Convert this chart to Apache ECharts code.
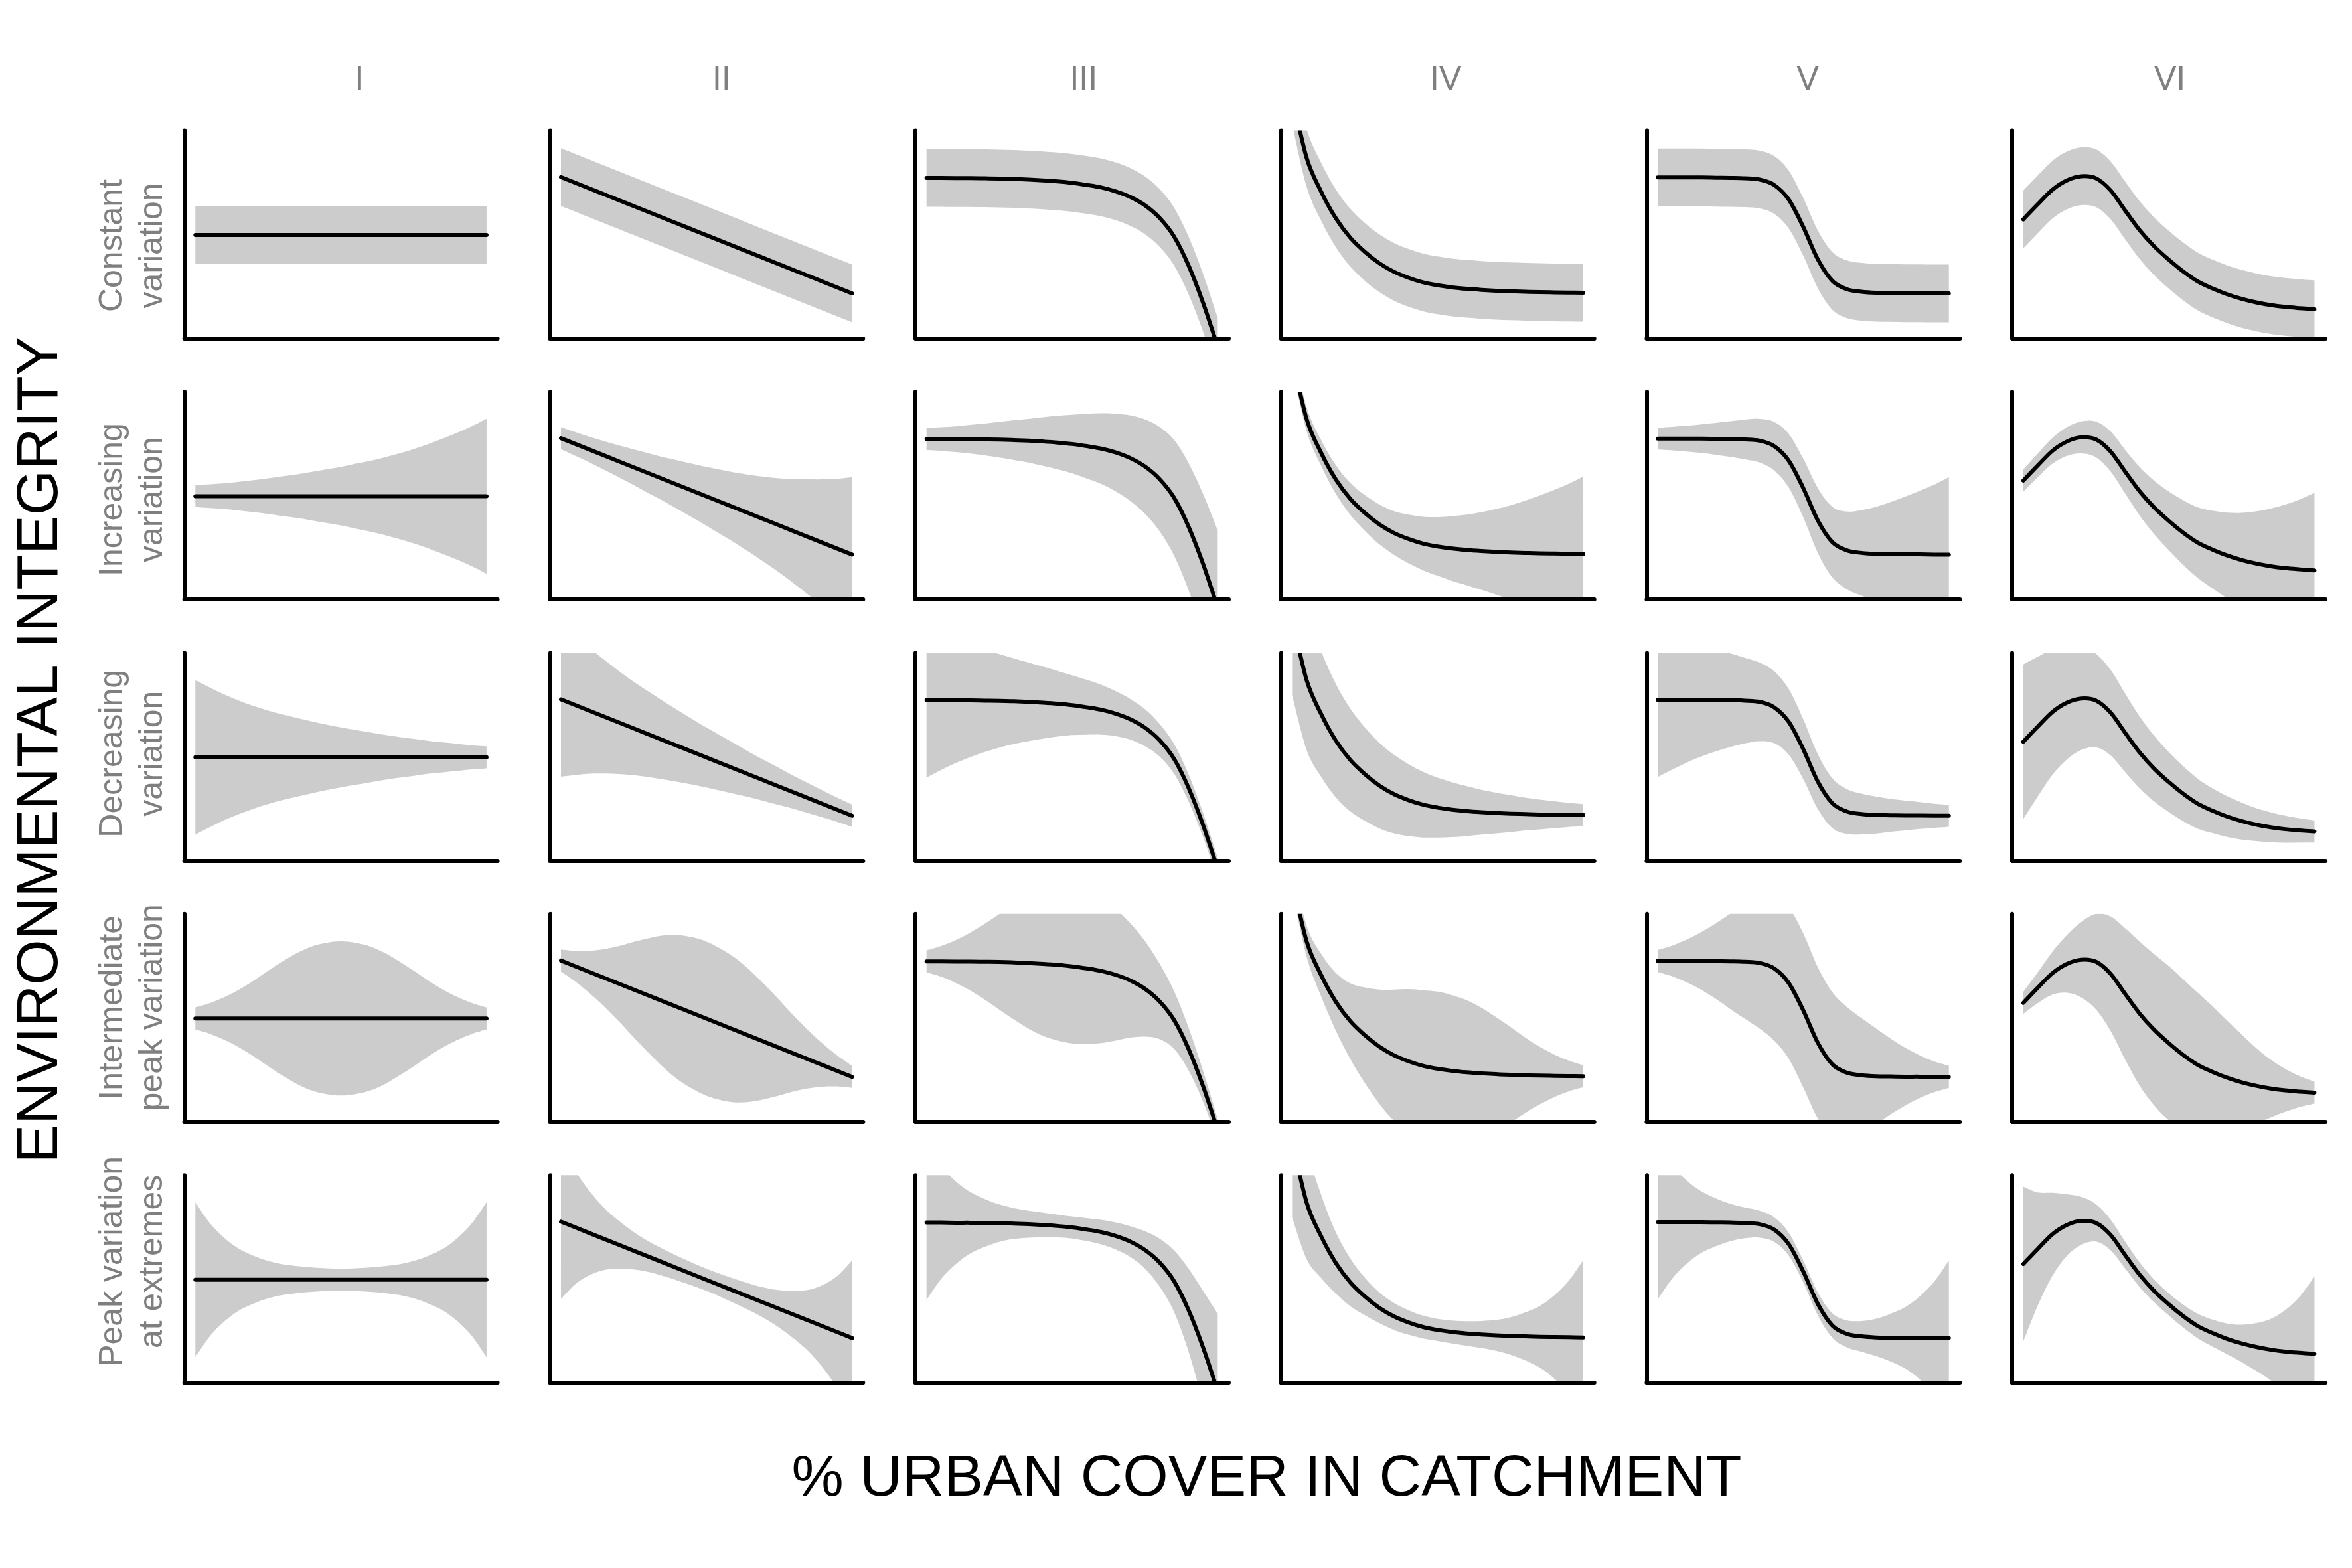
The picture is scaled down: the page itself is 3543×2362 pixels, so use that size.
<!DOCTYPE html>
<html>
<head>
<meta charset="utf-8">
<script src="https://cdn.jsdelivr.net/npm/echarts@6/dist/echarts.min.js"></script>
<style>
html, body { margin: 0; padding: 0; background: #ffffff; }
#chart { width: 3543px; height: 2362px; }
</style>
</head>
<body>
<div id="chart"></div>
<script>
// ---------------- DATA ----------------
// x positions along "% urban cover" (fraction of the data range)
const xs = [0, 0.05, 0.1, 0.15, 0.2, 0.25, 0.3, 0.35, 0.4, 0.45, 0.5, 0.55, 0.6, 0.65, 0.7, 0.75, 0.8, 0.85, 0.9, 0.95, 1];

// column (response shape) labels and row (variation pattern) labels
const columnLabels = ['I', 'II', 'III', 'IV', 'V', 'VI'];
const rowLabels = ['Constant\nvariation', 'Increasing\nvariation', 'Decreasing\nvariation', 'Intermediate\npeak variation', 'Peak variation\nat extremes'];

// mean environmental integrity per column (fraction of panel height)
const meanI   = [0.497, 0.497, 0.497, 0.497, 0.497, 0.497, 0.497, 0.497, 0.497, 0.497, 0.497, 0.497, 0.497, 0.497, 0.497, 0.497, 0.497, 0.497, 0.497, 0.497, 0.497];
const meanII  = [0.776, 0.748, 0.720, 0.692, 0.664, 0.636, 0.608, 0.580, 0.552, 0.524, 0.496, 0.468, 0.440, 0.412, 0.384, 0.356, 0.328, 0.300, 0.272, 0.244, 0.216];
const meanIII = [0.772, 0.772, 0.771, 0.771, 0.770, 0.769, 0.767, 0.764, 0.760, 0.755, 0.748, 0.738, 0.726, 0.707, 0.680, 0.640, 0.580, 0.490, 0.350, 0.170, -0.040];
const meanIV  = [1.170, 0.868, 0.705, 0.578, 0.484, 0.416, 0.361, 0.320, 0.291, 0.269, 0.255, 0.245, 0.238, 0.233, 0.229, 0.226, 0.224, 0.222, 0.221, 0.220, 0.219];
const meanV   = [0.774, 0.774, 0.774, 0.774, 0.773, 0.772, 0.770, 0.764, 0.738, 0.668, 0.536, 0.380, 0.276, 0.236, 0.224, 0.219, 0.218, 0.217, 0.217, 0.216, 0.216];
const meanVI  = [0.572, 0.645, 0.715, 0.760, 0.780, 0.770, 0.712, 0.615, 0.520, 0.442, 0.378, 0.321, 0.273, 0.240, 0.212, 0.190, 0.173, 0.160, 0.151, 0.145, 0.140];

// half-width of the grey ribbon per row (fraction of panel height)
const spreadConstant     = [0.139, 0.139, 0.139, 0.139, 0.139, 0.139, 0.139, 0.139, 0.139, 0.139, 0.139, 0.139, 0.139, 0.139, 0.139, 0.139, 0.139, 0.139, 0.139, 0.139, 0.139];
const spreadIncreasing   = [0.053, 0.057, 0.062, 0.069, 0.077, 0.086, 0.096, 0.105, 0.117, 0.129, 0.141, 0.156, 0.170, 0.187, 0.206, 0.227, 0.251, 0.278, 0.306, 0.337, 0.373];
const spreadDecreasing   = [0.372, 0.336, 0.302, 0.273, 0.247, 0.225, 0.206, 0.189, 0.173, 0.158, 0.144, 0.132, 0.120, 0.108, 0.098, 0.089, 0.079, 0.072, 0.065, 0.058, 0.053];
const spreadIntermediate = [0.053, 0.074, 0.103, 0.139, 0.182, 0.230, 0.275, 0.316, 0.347, 0.364, 0.371, 0.364, 0.347, 0.316, 0.275, 0.230, 0.182, 0.139, 0.103, 0.074, 0.053];
const spreadExtremes     = [0.373, 0.272, 0.200, 0.148, 0.115, 0.090, 0.074, 0.065, 0.059, 0.055, 0.053, 0.055, 0.059, 0.065, 0.074, 0.090, 0.115, 0.148, 0.200, 0.272, 0.373];

const xTitle = '% URBAN COVER IN CATCHMENT';
const yTitle = 'ENVIRONMENTAL INTEGRITY';

// ---------------- LAYOUT ----------------
const means = [meanI, meanII, meanIII, meanIV, meanV, meanVI];
const spreads = [spreadConstant, spreadIncreasing, spreadDecreasing, spreadIntermediate, spreadExtremes];

const FONT = '"Liberation Sans", Arial, sans-serif';
const GREY_TEXT = '#7f7f7f';
const LEFT0 = 277.6, DX = 550.7, TOP0 = 196.6, DY = 393.4, PW = 472, PH = 313;
const LINE_W = 6;

function smoothPath(pts, move) {
  let d = (move ? 'M' : 'L') + pts[0][0].toFixed(2) + ' ' + pts[0][1].toFixed(2);
  for (let k = 0; k < pts.length - 1; k++) {
    const p0 = pts[k - 1] || pts[k], p1 = pts[k], p2 = pts[k + 1], p3 = pts[k + 2] || pts[k + 1];
    const c1x = p1[0] + (p2[0] - p0[0]) / 6, c1y = p1[1] + (p2[1] - p0[1]) / 6;
    const c2x = p2[0] - (p3[0] - p1[0]) / 6, c2y = p2[1] - (p3[1] - p1[1]) / 6;
    d += ' C' + c1x.toFixed(2) + ' ' + c1y.toFixed(2) + ' ' + c2x.toFixed(2) + ' ' + c2y.toFixed(2) + ' ' + p2[0].toFixed(2) + ' ' + p2[1].toFixed(2);
  }
  return d;
}

const grids = [], xAxes = [], yAxes = [], series = [];
const axisStyle = { show: true, onZero: false, lineStyle: { color: '#000000', width: LINE_W, cap: 'round' } };

for (let i = 0; i < rowLabels.length; i++) {
  for (let j = 0; j < columnLabels.length; j++) {
    const g = grids.length;
    grids.push({ left: LEFT0 + DX * j, top: TOP0 + DY * i, width: PW, height: PH, containLabel: false });
    xAxes.push({ type: 'value', gridIndex: g, min: -0.038, max: 1.038, z: 10,
      axisLine: axisStyle, axisTick: { show: false }, axisLabel: { show: false }, splitLine: { show: false } });
    yAxes.push({ type: 'value', gridIndex: g, min: 0, max: 1, z: 10,
      axisLine: axisStyle, axisTick: { show: false }, axisLabel: { show: false }, splitLine: { show: false } });
    const mean = means[j], hw = spreads[i];
    series.push({
      type: 'custom', xAxisIndex: g, yAxisIndex: g, clip: true, silent: true, z: 2,
      data: [[0, 0]],
      renderItem: function (params, api) {
        const up = xs.map((x, k) => api.coord([x, mean[k] + hw[k]]));
        const lo = xs.map((x, k) => api.coord([x, mean[k] - hw[k]])).reverse();
        return { type: 'path', shape: { pathData: smoothPath(up, true) + ' ' + smoothPath(lo, false) + ' Z' },
          style: { fill: '#cccccc', stroke: 'none' } };
      }
    });
    series.push({
      type: 'custom', xAxisIndex: g, yAxisIndex: g, clip: true, silent: true, z: 3,
      data: [[0, 0]],
      renderItem: function (params, api) {
        const pts = xs.map((x, k) => api.coord([x, mean[k]]));
        return { type: 'path', shape: { pathData: smoothPath(pts, true) },
          style: { fill: 'none', stroke: '#000000', lineWidth: LINE_W, lineCap: 'round', lineJoin: 'round' } };
      }
    });
  }
}

const graphics = [];
columnLabels.forEach((t, j) => graphics.push({ type: 'text', x: 541.5 + 545.4 * j, y: 121.7, silent: true,
  style: { text: t, fill: GREY_TEXT, font: '50px ' + FONT, align: 'center', verticalAlign: 'middle' } }));
rowLabels.forEach((t, i) => graphics.push({ type: 'text', x: 200, y: 370 + 382.6 * i, rotation: Math.PI / 2, silent: true,
  style: { text: t, fill: GREY_TEXT, font: '50px ' + FONT, align: 'center', verticalAlign: 'middle', lineHeight: 60 } }));
graphics.push({ type: 'text', x: 62, y: 1130, rotation: Math.PI / 2, silent: true,
  style: { text: yTitle, fill: '#000000', font: '88px ' + FONT, align: 'center', verticalAlign: 'middle' } });
graphics.push({ type: 'text', x: 1908, y: 2229, silent: true,
  style: { text: xTitle, fill: '#000000', font: '88px ' + FONT, align: 'center', verticalAlign: 'middle' } });

const chart = echarts.init(document.getElementById('chart'), null, { renderer: 'canvas' });
chart.setOption({
  backgroundColor: '#ffffff',
  animation: false,
  grid: grids,
  xAxis: xAxes,
  yAxis: yAxes,
  series: series,
  graphic: graphics
});
</script>
</body>
</html>
